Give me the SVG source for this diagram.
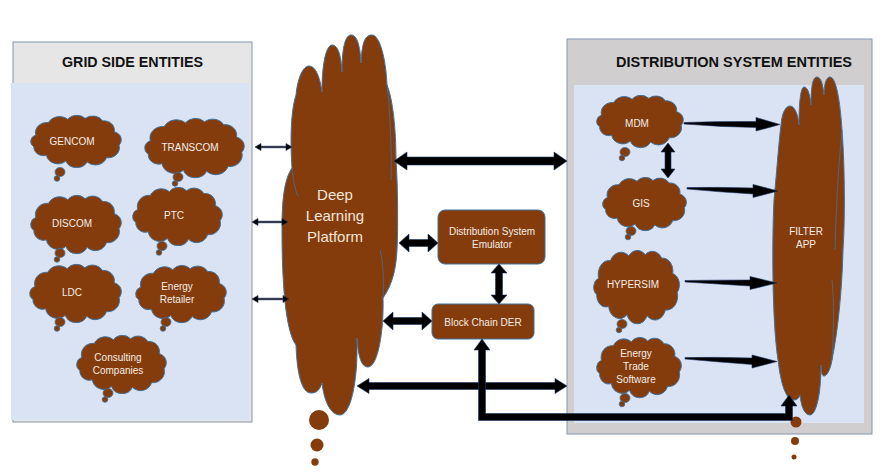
<svg xmlns="http://www.w3.org/2000/svg" xmlns:xlink="http://www.w3.org/1999/xlink" width="883" height="472" viewBox="0 0 883 472">
<style>
.cl{fill:#843C0C;stroke:#41719C;stroke-width:1;vector-effect:non-scaling-stroke}
.bub{fill:#843C0C;stroke:#41719C;stroke-width:0.8}
.dot{fill:#843C0C}
.t{font-family:"Liberation Sans",Arial,sans-serif;font-size:10px;fill:#F4ECE6;text-anchor:middle}
.big{font-size:15px;fill:#F6E6DA}
.ttl{font-family:"Liberation Sans",Arial,sans-serif;font-size:14px;font-weight:bold;fill:#111;text-anchor:middle}
.ar{fill:#000;stroke:#1F3864;stroke-width:0.6}
.box{fill:#843C0C;stroke:#41719C;stroke-width:1}
.inner{fill:none;stroke:#41719C;stroke-width:0.8}
</style>
<defs>
<path id="cloud" class="cl" d="M9,26 A12,12 0 0 1 22,11 A13,13 0 0 1 42,7 A12,12 0 0 1 60,6 A12,12 0 0 1 78,9 A11,11 0 0 1 90,22 A10,10 0 0 1 95,38 A12,12 0 0 1 82,53 A12,12 0 0 1 62,58 A12,12 0 0 1 40,57 A12,12 0 0 1 20,50 A10,10 0 0 1 7,40 A8,8 0 0 1 9,26 Z"/>
</defs>
<rect width="883" height="472" fill="#FFFFFF"/>

<g id="grid-panel">
<rect x="13" y="42" width="239" height="380" fill="#E7E6E6" stroke="#8497B0" stroke-width="1"/>
<rect x="11" y="83" width="238" height="337" fill="#DAE3F3"/>
<text class="ttl" x="132.5" y="67" textLength="141" lengthAdjust="spacingAndGlyphs">GRID SIDE ENTITIES</text>
</g>

<g id="dist-panel">
<rect x="567" y="39" width="305" height="395" fill="#D0CECE" stroke="#8497B0" stroke-width="1"/>
<rect x="574" y="85" width="290" height="338" fill="#DAE3F3"/>
<text class="ttl" x="734" y="67" textLength="236" lengthAdjust="spacingAndGlyphs">DISTRIBUTION SYSTEM ENTITIES</text>
</g>

<g id="gencom">
<use xlink:href="#cloud" transform="translate(27.1,113.3) scale(0.968,0.839)"/>
<ellipse class="bub" cx="60" cy="172" rx="5" ry="4.5"/><circle class="bub" cx="57" cy="178.5" r="2.8"/>
<text class="t" x="72" y="144.5">GENCOM</text>
</g>
<g id="transcom">
<use xlink:href="#cloud" transform="translate(140.8,116.1) scale(1.063,0.952)"/>
<ellipse class="bub" cx="178" cy="177" rx="5" ry="4.5"/><circle class="bub" cx="175" cy="183.5" r="2.8"/>
<text class="t" x="190" y="150.5">TRANSCOM</text>
</g>
<g id="discom">
<use xlink:href="#cloud" transform="translate(27.1,193.1) scale(0.968,0.935)"/>
<ellipse class="bub" cx="60" cy="253" rx="5" ry="4.5"/><circle class="bub" cx="57" cy="259.5" r="2.8"/>
<text class="t" x="72" y="226.5">DISCOM</text>
</g>
<g id="ptc">
<use xlink:href="#cloud" transform="translate(129.1,185.1) scale(0.958,0.935)"/>
<ellipse class="bub" cx="162" cy="246" rx="5" ry="4.5"/><circle class="bub" cx="159" cy="252.5" r="2.8"/>
<text class="t" x="174" y="218.5">PTC</text>
</g>
<g id="ldc">
<use xlink:href="#cloud" transform="translate(26.1,262.1) scale(0.979,0.935)"/>
<ellipse class="bub" cx="60" cy="322" rx="5" ry="4.5"/><circle class="bub" cx="57" cy="328.5" r="2.8"/>
<text class="t" x="72" y="295.5">LDC</text>
</g>
<g id="energy-retailer">
<use xlink:href="#cloud" transform="translate(132.1,263.2) scale(0.968,0.919)"/>
<ellipse class="bub" cx="166" cy="322" rx="5" ry="4.5"/><circle class="bub" cx="163" cy="328.5" r="2.8"/>
<text class="t" x="177" y="289.5">Energy</text>
<text class="t" x="177" y="302.5">Retailer</text>
</g>
<g id="consulting">
<use xlink:href="#cloud" transform="translate(73.1,333.1) scale(0.958,0.935)"/>
<ellipse class="bub" cx="108" cy="393" rx="5" ry="4.5"/><circle class="bub" cx="105" cy="399.5" r="2.8"/>
<text class="t" x="118" y="360.5">Consulting</text>
<text class="t" x="118" y="373.5">Companies</text>
</g>

<g id="deep-learning">
<path class="cl" d="M296,345 C285,330 282,280 282,230 C282,200 284,180 292,168 C290,140 291,110 296,95 C298,75 304,66 309,66 C316,66 320,78 322,92 C322,60 327,45 332,45 C338,45 341,55 342,72 C342,45 346,35 351,35 C357,35 360,45 361,63 C362,40 366,35 372,35 C380,35 386,60 387,85 C393,100 396,130 396,160 C398,190 398,230 397,250 C396,270 392,285 383,298 C384,330 378,367 368,367 C360,367 358,352 357,338 C358,385 350,415 340,415 C330,415 324,400 322,383 C319,392 315,393 311,393 C302,393 297,375 296,345 Z"/>
<path class="inner" d="M387,85 C390,110 392,150 391,180 M292,168 C293,178 295,190 298,196 M383,298 C384,280 383,260 380,250"/>
<circle class="dot" cx="319" cy="420" r="10"/>
<circle class="dot" cx="317" cy="445" r="6.5"/>
<circle class="dot" cx="315" cy="462" r="3.7"/>
<text class="t big" x="335" y="200">Deep</text>
<text class="t big" x="335" y="221">Learning</text>
<text class="t big" x="335" y="242">Platform</text>
</g>

<g id="emulator">
<rect class="box" x="438" y="210" width="107" height="54" rx="7"/>
<text class="t" x="492" y="234.5">Distribution System</text>
<text class="t" x="492" y="247.5">Emulator</text>
</g>
<g id="blockchain">
<rect class="box" x="432" y="304" width="102" height="35" rx="6"/>
<text class="t" x="483" y="325.5">Block Chain DER</text>
</g>

<g id="mdm">
<use xlink:href="#cloud" transform="translate(593.2,93.3) scale(0.926,0.839)"/>
<ellipse class="bub" cx="625" cy="152" rx="5" ry="4.5"/><circle class="bub" cx="622" cy="158" r="2.8"/>
<text class="t" x="637" y="126.5">MDM</text>
</g>
<g id="gis">
<use xlink:href="#cloud" transform="translate(599.3,175.3) scale(0.895,0.855)"/>
<ellipse class="bub" cx="631" cy="231" rx="5" ry="4.5"/><circle class="bub" cx="628" cy="237" r="2.8"/>
<text class="t" x="641" y="206.5">GIS</text>
</g>
<g id="hypersim">
<use xlink:href="#cloud" transform="translate(590.3,247.6) scale(0.916,1.177)"/>
<ellipse class="bub" cx="622" cy="324" rx="5" ry="4.5"/><circle class="bub" cx="619" cy="330" r="2.8"/>
<text class="t" x="633" y="287.5">HYPERSIM</text>
</g>
<g id="energy-trade">
<use xlink:href="#cloud" transform="translate(593.3,335.1) scale(0.905,0.968)"/>
<ellipse class="bub" cx="625" cy="398" rx="5" ry="4.5"/><circle class="bub" cx="622" cy="404" r="2.8"/>
<text class="t" x="636" y="356.5">Energy</text>
<text class="t" x="636" y="369.5">Trade</text>
<text class="t" x="636" y="382.5">Software</text>
</g>

<g id="filter-app">
<path class="cl" d="M778,360 C772,320 772,240 774,200 C776,180 779,140 781,125 C782,112 786,106 790,106 C795,106 798,115 799,125 C799,100 801,87 804,87 C808,87 810,95 811,105 C811,85 813,77 817,77 C821,77 823,85 824,95 C824,85 826,77 830,77 C836,77 840,100 842,130 C845,170 845,220 843,250 C842,290 838,330 832,360 C830,372 826,376 824,376 C822,376 821,372 821,365 C821,395 816,415 810,415 C804,415 801,405 800,395 C799,398 797,400 794,400 C786,400 781,385 778,360 Z"/>
<path class="inner" d="M842,130 C838,170 836,210 835,250 M832,360 C834,330 834,300 832,280"/>
<circle class="dot" cx="796" cy="422" r="5.5"/>
<circle class="dot" cx="795" cy="441" r="4"/>
<circle class="dot" cx="794" cy="457" r="2.5"/>
<text class="t" x="806" y="234.5">FILTER</text>
<text class="t" x="806" y="247.5">APP</text>
</g>

<g id="connectors">
<polygon class="ar" points="255,147 261,143.5 261,146.2 286,146.2 286,143.5 292,147 286,150.5 286,147.8 261,147.8 261,150.5"/>
<polygon class="ar" points="252,222 258,218.5 258,221.2 282,221.2 282,218.5 288,222 282,225.5 282,222.8 258,222.8 258,225.5"/>
<polygon class="ar" points="252,299 258,295.5 258,298.2 283,298.2 283,295.5 289,299 283,302.5 283,299.8 258,299.8 258,302.5"/>
<polygon class="ar" points="394,161 407,152 407,157 554,157 554,152 567,161 554,170 554,165 407,165 407,170"/>
<polygon class="ar" points="399,243 409,234 409,239.5 428,239.5 428,234 438,243 428,252 428,246.5 409,246.5 409,252"/>
<polygon class="ar" points="383,321 393,312 393,317.5 422,317.5 422,312 432,321 422,330 422,324.5 393,324.5 393,330"/>
<polygon class="ar" points="499,264 507,273 502.5,273 502.5,295 507,295 499,304 491,295 495.5,295 495.5,273 491,273"/>
<polygon class="ar" points="357,386 369,378.5 369,382.5 555,382.5 555,378.5 567,386 555,393.5 555,389.5 369,389.5 369,393.5"/>
<polygon class="ar" points="482,339 490,350 485.5,350 485.5,413.5 785.5,413.5 785.5,406 781,406 789,395 797,406 792.5,406 792.5,420.5 478.5,420.5 478.5,350 474,350"/>
<polygon class="ar" points="668,143 675,152 671,152 671,169 675,169 668,178 661,169 665,169 665,152 661,152"/>
<path class="ar" d="M684,122.5 Q722,121 756,121.5 L756,117.5 L780,124.5 L756,131 L756,127.5 Q722,127 684,124 Z"/>
<path class="ar" d="M687,187.5 Q720,187 753,188 L753,184.5 L778,191 L753,197.5 L753,194 Q720,192 687,189 Z"/>
<path class="ar" d="M685,280.5 Q718,280 750,280 L750,276.5 L777,283 L750,289.5 L750,286 Q718,284 685,282 Z"/>
<path class="ar" d="M685,357.5 Q718,357 752,358 L752,355 L777,361.5 L752,368 L752,364.5 Q718,362 685,359 Z"/>
</g>
</svg>
